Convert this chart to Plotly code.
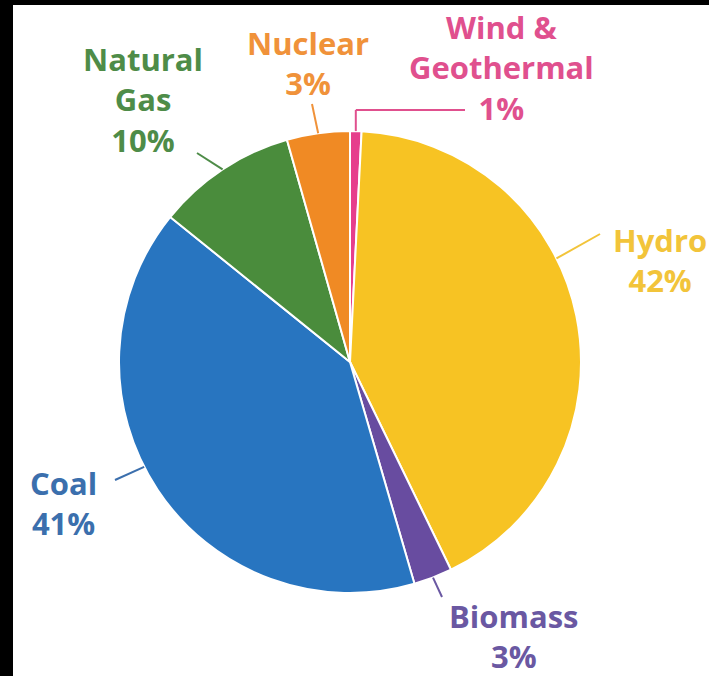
import math
import plotly.graph_objects as go

# ---- data ----
sources = ["Wind & Geothermal", "Hydro", "Biomass", "Coal", "Natural Gas", "Nuclear"]
shares = [0.8, 42.0, 2.7, 40.3, 9.8, 4.4]          # slice sizes
label_pct = ["1%", "42%", "3%", "41%", "10%", "3%"]  # printed labels
label_names = ["Wind &<br>Geothermal", "Hydro", "Biomass", "Coal", "Natural<br>Gas", "Nuclear"]
slice_colors = ["#E63E8C", "#F7C323", "#684CA0", "#2875C0", "#4A8C3C", "#F08A24"]
text_colors = ["#E0508E", "#F2C43A", "#6A58A2", "#3B6FAD", "#4E8C48", "#F0923A"]

W, H = 709, 676
CX, CY, R = 350, 362, 231


def px(x):
    return x / W


def py(y):
    return 1 - y / H


fig = go.Figure(go.Pie(
    labels=sources, values=shares, sort=False, direction="clockwise", rotation=0,
    marker=dict(colors=slice_colors, line=dict(color="white", width=2)),
    textinfo="none", hoverinfo="label+percent", showlegend=False,
    domain=dict(x=[px(CX - R), px(CX + R)], y=[py(CY + R), py(CY - R)]),
))

# label block centres (x, y) in pixels
label_pos = {
    4: (143, 99),
    5: (308, 63),
    0: (501, 67),
    1: (660, 260),
    3: (63, 503),
    2: (513, 636),
}
# leader-line outer ends and anchor fraction within slice
leader = {
    4: ((197, 153), 0.5),
    5: ((312, 104), 0.5),
    0: ((465, 110), 0.5),
    1: ((600, 234), 0.40),
    3: ((115, 480), 0.546),
    2: ((442, 597), 0.5),
}

total = sum(shares)
starts = []
acc = 0
for v in shares:
    starts.append(acc)
    acc += v

annotations = []
shapes = [dict(type="rect", xref="paper", yref="paper", x0=px(13), x1=1, y0=0, y1=py(5),
               fillcolor="white", line=dict(width=0), layer="below")]

for i, (x, y) in label_pos.items():
    annotations.append(dict(text=label_names[i] + "<br>" + label_pct[i],
                            x=px(x), y=py(y), xref="paper", yref="paper",
                            xanchor="center", yanchor="middle", align="center",
                            showarrow=False,
                            font=dict(family="Open Sans", size=31, color=text_colors[i],
                                      weight="bold")))
    (ox, oy), frac = leader[i]
    ang = (starts[i] + frac * shares[i]) / total * 2 * math.pi
    ix = CX + R * math.sin(ang)
    iy = CY - R * math.cos(ang)
    lc = dict(color=text_colors[i], width=2)
    if i == 0:
        shapes.append(dict(type="line", xref="paper", yref="paper", x0=px(ix), y0=py(iy),
                           x1=px(ix), y1=py(oy), line=lc))
        shapes.append(dict(type="line", xref="paper", yref="paper", x0=px(ix), y0=py(oy),
                           x1=px(ox), y1=py(oy), line=lc))
    else:
        shapes.append(dict(type="line", xref="paper", yref="paper", x0=px(ix), y0=py(iy),
                           x1=px(ox), y1=py(oy), line=lc))

fig.update_layout(
    width=W, height=H, margin=dict(l=0, r=0, t=0, b=0),
    paper_bgcolor="black", plot_bgcolor="black",
    annotations=annotations, shapes=shapes,
)

fig.write_html(
    "out.html",
    config={"displayModeBar": False},
    post_script="document.body.style.margin='0';document.body.style.overflow='hidden';"
                "document.body.style.background='black';",
)
